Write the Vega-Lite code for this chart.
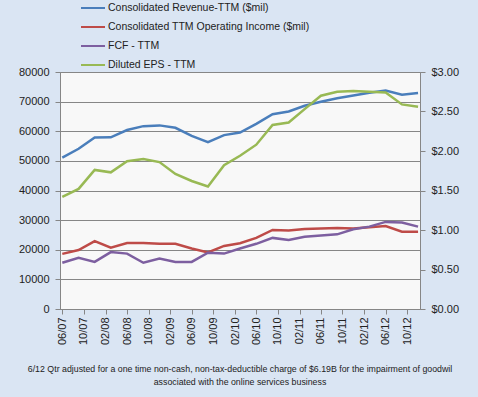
{
  "$schema": "https://vega.github.io/schema/vega-lite/v6.json",
  "width": 360,
  "height": 237,
  "autosize": {"type": "none"},
  "padding": {"left": 60, "top": 72, "right": 58, "bottom": 88},
  "background": "#dae5f3",
  "config": {
    "view": {"fill": "#f8f8f8", "stroke": "#868686"},
    "font": "Liberation Sans",
    "axis": {"labelFont": "Liberation Sans", "labelFontSize": 11, "labelColor": "#222", "domainColor": "#868686", "tickColor": "#868686", "gridColor": "#868686", "gridOpacity": 1, "tickSize": 5, "title": null}
  },
  "title": {
    "text": ["6/12 Qtr adjusted for a one time non-cash, non-tax-deductible charge of $6.19B for the impairment of goodwil", "associated with the online services business"],
    "orient": "bottom",
    "anchor": "middle",
    "font": "Liberation Sans",
    "fontSize": 8.8,
    "fontWeight": "normal",
    "color": "#222",
    "offset": 20,
    "lineHeight": 13
  },
  "data": {
    "values": [
      {"date": "2007-06-01", "series": "Consolidated Revenue-TTM ($mil)", "value": 51122},
      {"date": "2007-09-01", "series": "Consolidated Revenue-TTM ($mil)", "value": 54073},
      {"date": "2007-12-01", "series": "Consolidated Revenue-TTM ($mil)", "value": 57898},
      {"date": "2008-03-01", "series": "Consolidated Revenue-TTM ($mil)", "value": 57954},
      {"date": "2008-06-01", "series": "Consolidated Revenue-TTM ($mil)", "value": 60420},
      {"date": "2008-09-01", "series": "Consolidated Revenue-TTM ($mil)", "value": 61719},
      {"date": "2008-12-01", "series": "Consolidated Revenue-TTM ($mil)", "value": 61981},
      {"date": "2009-03-01", "series": "Consolidated Revenue-TTM ($mil)", "value": 61175},
      {"date": "2009-06-01", "series": "Consolidated Revenue-TTM ($mil)", "value": 58437},
      {"date": "2009-09-01", "series": "Consolidated Revenue-TTM ($mil)", "value": 56296},
      {"date": "2009-12-01", "series": "Consolidated Revenue-TTM ($mil)", "value": 58689},
      {"date": "2010-03-01", "series": "Consolidated Revenue-TTM ($mil)", "value": 59544},
      {"date": "2010-06-01", "series": "Consolidated Revenue-TTM ($mil)", "value": 62484},
      {"date": "2010-09-01", "series": "Consolidated Revenue-TTM ($mil)", "value": 65759},
      {"date": "2010-12-01", "series": "Consolidated Revenue-TTM ($mil)", "value": 66690},
      {"date": "2011-03-01", "series": "Consolidated Revenue-TTM ($mil)", "value": 68615},
      {"date": "2011-06-01", "series": "Consolidated Revenue-TTM ($mil)", "value": 69943},
      {"date": "2011-09-01", "series": "Consolidated Revenue-TTM ($mil)", "value": 71120},
      {"date": "2011-12-01", "series": "Consolidated Revenue-TTM ($mil)", "value": 72052},
      {"date": "2012-03-01", "series": "Consolidated Revenue-TTM ($mil)", "value": 73031},
      {"date": "2012-06-01", "series": "Consolidated Revenue-TTM ($mil)", "value": 73723},
      {"date": "2012-09-01", "series": "Consolidated Revenue-TTM ($mil)", "value": 72359},
      {"date": "2012-12-01", "series": "Consolidated Revenue-TTM ($mil)", "value": 72930},
      {"date": "2007-06-01", "series": "Consolidated TTM Operating Income ($mil)", "value": 18600},
      {"date": "2007-09-01", "series": "Consolidated TTM Operating Income ($mil)", "value": 19900},
      {"date": "2007-12-01", "series": "Consolidated TTM Operating Income ($mil)", "value": 22900},
      {"date": "2008-03-01", "series": "Consolidated TTM Operating Income ($mil)", "value": 20700},
      {"date": "2008-06-01", "series": "Consolidated TTM Operating Income ($mil)", "value": 22300},
      {"date": "2008-09-01", "series": "Consolidated TTM Operating Income ($mil)", "value": 22300},
      {"date": "2008-12-01", "series": "Consolidated TTM Operating Income ($mil)", "value": 22000},
      {"date": "2009-03-01", "series": "Consolidated TTM Operating Income ($mil)", "value": 22000},
      {"date": "2009-06-01", "series": "Consolidated TTM Operating Income ($mil)", "value": 20400},
      {"date": "2009-09-01", "series": "Consolidated TTM Operating Income ($mil)", "value": 19100},
      {"date": "2009-12-01", "series": "Consolidated TTM Operating Income ($mil)", "value": 21300},
      {"date": "2010-03-01", "series": "Consolidated TTM Operating Income ($mil)", "value": 22200},
      {"date": "2010-06-01", "series": "Consolidated TTM Operating Income ($mil)", "value": 24000},
      {"date": "2010-09-01", "series": "Consolidated TTM Operating Income ($mil)", "value": 26700},
      {"date": "2010-12-01", "series": "Consolidated TTM Operating Income ($mil)", "value": 26500},
      {"date": "2011-03-01", "series": "Consolidated TTM Operating Income ($mil)", "value": 27000},
      {"date": "2011-06-01", "series": "Consolidated TTM Operating Income ($mil)", "value": 27200},
      {"date": "2011-09-01", "series": "Consolidated TTM Operating Income ($mil)", "value": 27300},
      {"date": "2011-12-01", "series": "Consolidated TTM Operating Income ($mil)", "value": 27200},
      {"date": "2012-03-01", "series": "Consolidated TTM Operating Income ($mil)", "value": 27600},
      {"date": "2012-06-01", "series": "Consolidated TTM Operating Income ($mil)", "value": 28000},
      {"date": "2012-09-01", "series": "Consolidated TTM Operating Income ($mil)", "value": 26100},
      {"date": "2012-12-01", "series": "Consolidated TTM Operating Income ($mil)", "value": 26100},
      {"date": "2007-06-01", "series": "FCF - TTM", "value": 15600},
      {"date": "2007-09-01", "series": "FCF - TTM", "value": 17300},
      {"date": "2007-12-01", "series": "FCF - TTM", "value": 15900},
      {"date": "2008-03-01", "series": "FCF - TTM", "value": 19200},
      {"date": "2008-06-01", "series": "FCF - TTM", "value": 18700},
      {"date": "2008-09-01", "series": "FCF - TTM", "value": 15600},
      {"date": "2008-12-01", "series": "FCF - TTM", "value": 17000},
      {"date": "2009-03-01", "series": "FCF - TTM", "value": 15900},
      {"date": "2009-06-01", "series": "FCF - TTM", "value": 15900},
      {"date": "2009-09-01", "series": "FCF - TTM", "value": 19000},
      {"date": "2009-12-01", "series": "FCF - TTM", "value": 18700},
      {"date": "2010-03-01", "series": "FCF - TTM", "value": 20400},
      {"date": "2010-06-01", "series": "FCF - TTM", "value": 22000},
      {"date": "2010-09-01", "series": "FCF - TTM", "value": 24000},
      {"date": "2010-12-01", "series": "FCF - TTM", "value": 23300},
      {"date": "2011-03-01", "series": "FCF - TTM", "value": 24400},
      {"date": "2011-06-01", "series": "FCF - TTM", "value": 24800},
      {"date": "2011-09-01", "series": "FCF - TTM", "value": 25200},
      {"date": "2011-12-01", "series": "FCF - TTM", "value": 26900},
      {"date": "2012-03-01", "series": "FCF - TTM", "value": 27800},
      {"date": "2012-06-01", "series": "FCF - TTM", "value": 29400},
      {"date": "2012-09-01", "series": "FCF - TTM", "value": 29200},
      {"date": "2012-12-01", "series": "FCF - TTM", "value": 27800},
      {"date": "2007-06-01", "series": "Diluted EPS - TTM", "value": 1.42},
      {"date": "2007-09-01", "series": "Diluted EPS - TTM", "value": 1.52},
      {"date": "2007-12-01", "series": "Diluted EPS - TTM", "value": 1.76},
      {"date": "2008-03-01", "series": "Diluted EPS - TTM", "value": 1.73},
      {"date": "2008-06-01", "series": "Diluted EPS - TTM", "value": 1.87},
      {"date": "2008-09-01", "series": "Diluted EPS - TTM", "value": 1.90},
      {"date": "2008-12-01", "series": "Diluted EPS - TTM", "value": 1.86},
      {"date": "2009-03-01", "series": "Diluted EPS - TTM", "value": 1.71},
      {"date": "2009-06-01", "series": "Diluted EPS - TTM", "value": 1.62},
      {"date": "2009-09-01", "series": "Diluted EPS - TTM", "value": 1.55},
      {"date": "2009-12-01", "series": "Diluted EPS - TTM", "value": 1.82},
      {"date": "2010-03-01", "series": "Diluted EPS - TTM", "value": 1.94},
      {"date": "2010-06-01", "series": "Diluted EPS - TTM", "value": 2.08},
      {"date": "2010-09-01", "series": "Diluted EPS - TTM", "value": 2.33},
      {"date": "2010-12-01", "series": "Diluted EPS - TTM", "value": 2.36},
      {"date": "2011-03-01", "series": "Diluted EPS - TTM", "value": 2.53},
      {"date": "2011-06-01", "series": "Diluted EPS - TTM", "value": 2.70},
      {"date": "2011-09-01", "series": "Diluted EPS - TTM", "value": 2.75},
      {"date": "2011-12-01", "series": "Diluted EPS - TTM", "value": 2.76},
      {"date": "2012-03-01", "series": "Diluted EPS - TTM", "value": 2.75},
      {"date": "2012-06-01", "series": "Diluted EPS - TTM", "value": 2.74},
      {"date": "2012-09-01", "series": "Diluted EPS - TTM", "value": 2.59},
      {"date": "2012-12-01", "series": "Diluted EPS - TTM", "value": 2.56}
    ]
  },
  "encoding": {
    "x": {
      "field": "date",
      "type": "temporal",
      "scale": {"type": "utc", "domain": [{"year": 2007, "month": 5, "date": 19, "utc": true}, {"year": 2012, "month": 12, "date": 12, "utc": true}]},
      "axis": {
        "values": [
          {"year": 2007, "month": 6, "date": 1, "utc": true},
          {"year": 2007, "month": 10, "date": 1, "utc": true},
          {"year": 2008, "month": 2, "date": 1, "utc": true},
          {"year": 2008, "month": 6, "date": 1, "utc": true},
          {"year": 2008, "month": 10, "date": 1, "utc": true},
          {"year": 2009, "month": 2, "date": 1, "utc": true},
          {"year": 2009, "month": 6, "date": 1, "utc": true},
          {"year": 2009, "month": 10, "date": 1, "utc": true},
          {"year": 2010, "month": 2, "date": 1, "utc": true},
          {"year": 2010, "month": 6, "date": 1, "utc": true},
          {"year": 2010, "month": 10, "date": 1, "utc": true},
          {"year": 2011, "month": 2, "date": 1, "utc": true},
          {"year": 2011, "month": 6, "date": 1, "utc": true},
          {"year": 2011, "month": 10, "date": 1, "utc": true},
          {"year": 2012, "month": 2, "date": 1, "utc": true},
          {"year": 2012, "month": 6, "date": 1, "utc": true},
          {"year": 2012, "month": 10, "date": 1, "utc": true}
        ],
        "labelExpr": "utcFormat(datum.value, '%m/%y')",
        "labelAngle": -90,
        "labelPadding": 3,
        "grid": false,
        "labelOverlap": false,
        "labelFlush": false
      }
    }
  },
  "layer": [
    {
      "transform": [{"filter": "datum.series !== 'Diluted EPS - TTM'"}],
      "mark": {"type": "line", "strokeWidth": 2.5},
      "encoding": {
        "y": {
          "field": "value",
          "type": "quantitative",
          "scale": {"domain": [0, 80000], "nice": false},
          "axis": {"orient": "left", "values": [0, 10000, 20000, 30000, 40000, 50000, 60000, 70000, 80000], "format": "d", "grid": true, "labelPadding": 6}
        },
        "color": {
          "field": "series",
          "type": "nominal",
          "scale": {
            "domain": ["Consolidated Revenue-TTM ($mil)", "Consolidated TTM Operating Income ($mil)", "FCF - TTM", "Diluted EPS - TTM"],
            "range": ["#4a7ebb", "#be4b48", "#7d5fa0", "#98b954"]
          },
          "legend": {"orient": "none", "legendX": 20, "legendY": -77, "title": null, "symbolType": "stroke", "symbolStrokeWidth": 2, "symbolSize": 576, "labelFont": "Liberation Sans", "labelFontSize": 10.5, "labelColor": "#222", "rowPadding": -8, "labelOffset": 2, "labelLimit": 400}
        }
      }
    },
    {
      "transform": [{"filter": "datum.series === 'Diluted EPS - TTM'"}],
      "mark": {"type": "line", "strokeWidth": 2.5},
      "encoding": {
        "y": {
          "field": "value",
          "type": "quantitative",
          "scale": {"domain": [0, 3], "nice": false},
          "axis": {"orient": "right", "values": [0, 0.5, 1, 1.5, 2, 2.5, 3], "format": "$.2f", "grid": false, "labelPadding": 6}
        },
        "color": {
          "field": "series",
          "type": "nominal",
          "legend": {"orient": "none", "legendX": 20, "legendY": -77, "title": null, "symbolType": "stroke", "symbolStrokeWidth": 2, "symbolSize": 576, "labelFont": "Liberation Sans", "labelFontSize": 10.5, "labelColor": "#222", "rowPadding": -8, "labelOffset": 2, "labelLimit": 400}
        }
      }
    }
  ],
  "resolve": {"scale": {"y": "independent"}}
}
